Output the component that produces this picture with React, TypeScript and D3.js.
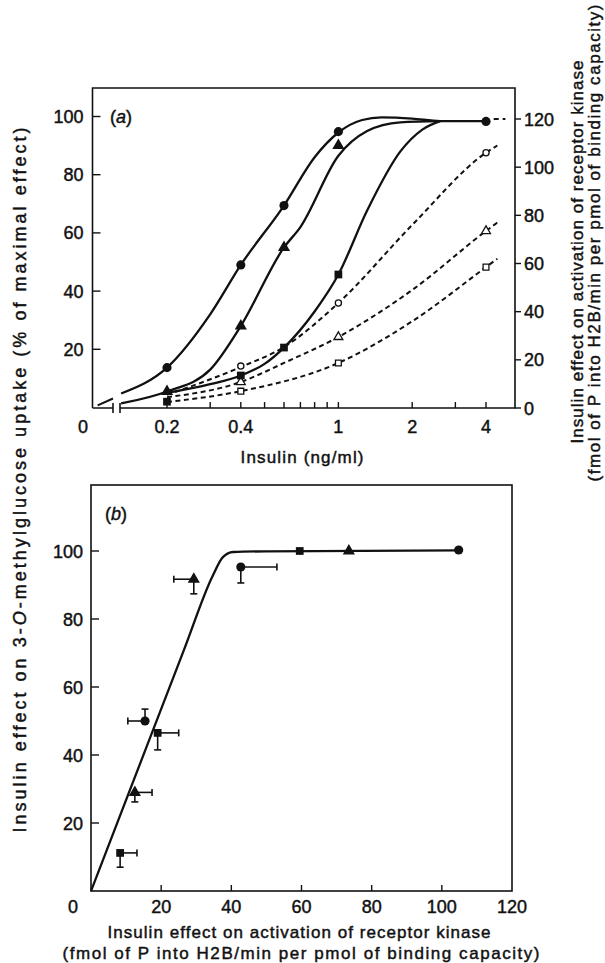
import * as d3 from "d3";
import { useEffect, useRef } from "react";

// ---- panel (a): insulin dose response ----
// filled markers = glucose uptake (left axis, % of max)
const doseA = [0.2, 0.4, 0.6, 1, 4];
const uptakeCircle = [13.7, 49, 69.4, 94.8, 98.3];
const doseTri = [0.2, 0.4, 0.6, 1];
const uptakeTri = [5.5, 28, 55, 90];
const doseSq = [0.2, 0.4, 0.6, 1];
const uptakeSq = [2, 11, 20.6, 45.7];

// fitted solid curves (left axis)
const fitCircle = [[0.13, 4.8], [0.2, 13.7], [0.3, 32], [0.4, 49], [0.6, 69.4], [0.8, 86], [1, 94.5], [1.25, 98.8], [1.5, 99.7], [2, 99.3], [2.6, 98.4], [4, 98.4]];
const fitTri = [[0.13, 1.4], [0.2, 5.5], [0.3, 13], [0.4, 28], [0.6, 55], [0.7, 62], [1, 86.5], [1.31, 95], [1.79, 98], [2.6, 98.4]];
const fitSq = [[0.2, 5], [0.3, 8], [0.4, 11], [0.5, 15], [0.6, 20.6], [0.8, 33], [1, 45.7], [1.31, 67.7], [1.79, 88], [2.2, 95.5], [2.6, 98.4]];
const zeroSeg = [[0.25, 0.7], [1, 3.1]]; // piece left of axis break

// open markers = receptor kinase (right axis)
const doseOpen = [0.4, 1, 4];
const kinaseCircle = [17.4, 43.6, 106];
const kinaseTri = [10.8, 29.5, 73.5];
const kinaseSq = [7, 18.7, 58.5];

// dashed curves (right axis)
const dashCircle = [[0.2, 5.5], [0.4, 17], [0.6, 25.3], [1, 43.6], [2, 76], [4, 106], [4.45, 109]];
const dashTri = [[0.2, 4.5], [0.4, 10.8], [0.6, 18.7], [1, 29.5], [2, 49], [4, 73.5], [4.45, 77]];
const dashSq = [[0.2, 2.5], [0.4, 7], [1, 18.7], [2, 36], [4, 58.5], [4.45, 62]];
const dashTop = [[4.3, 120], [4.8, 120]];

const xTicksA = [0.2, 0.3, 0.4, 0.5, 0.6, 0.7, 0.8, 0.9, 1, 2, 3, 4];
const xLabelsA = [0.2, 0.4, 1, 2, 4];
const yTicksA = [20, 40, 60, 80, 100];
const yTicksR = [0, 20, 40, 60, 80, 100, 120];

// ---- panel (b): uptake vs kinase activation ----
const kinB = [8.3, 12.5, 15.4, 19, 29.3, 42.7, 59.5, 73.5, 104.8];
const uptB = [11.2, 29, 50, 46.5, 91.7, 95.3, 100, 100, 100.3];
const shapeB = ["square", "triangle", "circle", "square", "triangle", "circle", "square", "triangle", "circle"];
const kinErrEnd = [13.1, 17.4, 10.5, 25, 23.6, 53, null, null, null];
const uptErrEnd = [7, 26.2, 53.5, 41.5, 87.4, 90.6, null, null, null];
const fitB = [[0, 0], [13, 34.8], [26.5, 70.9], [34.6, 92.5], [37.6, 98.2], [40.5, 99.7], [50, 99.9], [104.8, 100.2]];

const xTicksB = [20, 40, 60, 80, 100];
const xLabelsB = [20, 40, 60, 80, 100, 120];
const yTicksB = [20, 40, 60, 80, 100];

const W = 605;
const H = 963;
const FONT = "'Liberation Sans', Arial, Helvetica, sans-serif";
const INK = "#111";

export default function App() {
  const ref = useRef<SVGSVGElement>(null);

  useEffect(() => {
    const svg = d3.select(ref.current);
    svg.selectAll("*").remove();

    const symbolType: any = { circle: d3.symbolCircle, triangle: d3.symbolTriangle, square: d3.symbolSquare };
    const filledSize: any = { circle: 66, triangle: 64, square: 60 };
    const openSize: any = { circle: 30, triangle: 34, square: 34 };

    // text helper: slightly heavy ink like the printed figure
    const txt = (g: any, tx: number, ty: number, size: number, anchor: string) =>
      g.append("text").attr("x", tx).attr("y", ty).attr("text-anchor", anchor)
        .attr("font-family", FONT).attr("font-size", size).attr("fill", INK)
        .attr("stroke", INK).attr("stroke-width", 0.45);

    // ================= panel a =================
    const ax = { l: 92.5, r: 515, t: 88, b: 408 };
    const x = d3.scaleLog().domain([0.2, 4]).range([167, 486]);
    const xZero = d3.scaleLinear().domain([0, 1]).range([ax.l, 113]);
    const yL = d3.scaleLinear().domain([0, 100]).range([407.5, 116.5]);
    const yR = d3.scaleLinear().domain([0, 120]).range([408, 119]);

    const ga = svg.append("g");

    // frame with axis break
    ga.append("path")
      .attr("d", `M${ax.l},${ax.b} V${ax.t} H${ax.r} V${ax.b} H120 M113,${ax.b} H${ax.l}`)
      .attr("fill", "none").attr("stroke", INK).attr("stroke-width", 1.6);
    [113, 120].forEach(bx => {
      ga.append("line").attr("x1", bx).attr("x2", bx).attr("y1", ax.b - 5).attr("y2", ax.b + 5)
        .attr("stroke", INK).attr("stroke-width", 1.6);
    });

    // x ticks (inside)
    xTicksA.forEach(t => {
      ga.append("line").attr("x1", x(t)).attr("x2", x(t)).attr("y1", ax.b).attr("y2", ax.b - 6)
        .attr("stroke", INK).attr("stroke-width", 1.4);
    });
    xLabelsA.forEach(t => txt(ga, x(t), 433, 18, "middle").text(String(t)));
    txt(ga, 83, 433, 18, "middle").text("0");

    yTicksA.forEach(t => {
      ga.append("line").attr("x1", ax.l).attr("x2", ax.l + 8).attr("y1", yL(t)).attr("y2", yL(t))
        .attr("stroke", INK).attr("stroke-width", 1.4);
      txt(ga, ax.l - 9, yL(t) + 6.5, 18, "end").text(String(t));
    });
    yTicksR.forEach(t => {
      ga.append("line").attr("x1", ax.r).attr("x2", ax.r + 6).attr("y1", yR(t)).attr("y2", yR(t))
        .attr("stroke", INK).attr("stroke-width", 1.4);
      txt(ga, ax.r + 9, yR(t) + 6.5, 18, "start").text(String(t));
    });

    txt(ga, 110, 123, 18, "start").html("(<tspan font-style='italic'>a</tspan>)");

    const lineL = d3.line<any>().x(d => x(d[0])).y(d => yL(d[1])).curve(d3.curveMonotoneX);
    const lineR = d3.line<any>().x(d => x(d[0])).y(d => yR(d[1])).curve(d3.curveMonotoneX);

    [fitCircle, fitTri, fitSq].forEach(f => {
      ga.append("path").attr("d", lineL(f)).attr("fill", "none")
        .attr("stroke", INK).attr("stroke-width", 2.3);
    });
    ga.append("path")
      .attr("d", d3.line<any>().x(d => xZero(d[0])).y(d => yL(d[1]))(zeroSeg))
      .attr("fill", "none").attr("stroke", INK).attr("stroke-width", 2);

    [dashCircle, dashTri, dashSq].forEach(f => {
      ga.append("path").attr("d", lineR(f)).attr("fill", "none")
        .attr("stroke", INK).attr("stroke-width", 2).attr("stroke-dasharray", "5,3.5");
    });
    ga.append("path").attr("d", lineR(dashTop)).attr("fill", "none")
      .attr("stroke", INK).attr("stroke-width", 2).attr("stroke-dasharray", "5,4");

    const filled = (g: any, shape: string, px: number, py: number) =>
      g.append("path").attr("d", d3.symbol().type(symbolType[shape]).size(filledSize[shape])())
        .attr("transform", `translate(${px},${py})`).attr("fill", INK);
    const open = (g: any, shape: string, px: number, py: number) =>
      g.append("path").attr("d", d3.symbol().type(symbolType[shape]).size(openSize[shape])())
        .attr("transform", `translate(${px},${py})`).attr("fill", "#fff")
        .attr("stroke", INK).attr("stroke-width", 1.3);

    doseOpen.forEach((d, i) => {
      open(ga, "circle", x(d), yR(kinaseCircle[i]));
      open(ga, "triangle", x(d), yR(kinaseTri[i]));
      open(ga, "square", x(d), yR(kinaseSq[i]));
    });
    doseA.forEach((d, i) => filled(ga, "circle", x(d), yL(uptakeCircle[i])));
    doseTri.forEach((d, i) => filled(ga, "triangle", x(d), yL(uptakeTri[i])));
    doseSq.forEach((d, i) => filled(ga, "square", x(d), yL(uptakeSq[i])));

    txt(ga, 302, 463, 17, "middle").attr("textLength", 123).attr("lengthAdjust", "spacing")
      .text("Insulin (ng/ml)");

    // right axis title (two rotated lines)
    txt(ga, 0, 0, 17, "middle").attr("transform", "translate(583,252) rotate(-90)")
      .attr("textLength", 383).attr("lengthAdjust", "spacing")
      .text("Insulin effect on activation of receptor kinase");
    txt(ga, 0, 0, 17, "middle").attr("transform", "translate(600,243) rotate(-90)")
      .attr("textLength", 477).attr("lengthAdjust", "spacing")
      .text("(fmol of P into H2B/min per pmol of binding capacity)");

    // ================= panel b =================
    const bx = { l: 91, r: 512, t: 485, b: 891 };
    const xb = d3.scaleLinear().domain([0, 120]).range([bx.l, bx.r]);
    const yb = d3.scaleLinear().domain([0, 100]).range([bx.b, 551]);
    const gb = svg.append("g");

    gb.append("rect").attr("x", bx.l).attr("y", bx.t).attr("width", bx.r - bx.l).attr("height", bx.b - bx.t)
      .attr("fill", "none").attr("stroke", INK).attr("stroke-width", 1.6);

    xTicksB.forEach(t => {
      gb.append("line").attr("x1", xb(t)).attr("x2", xb(t)).attr("y1", bx.b).attr("y2", bx.b - 6)
        .attr("stroke", INK).attr("stroke-width", 1.4);
    });
    xLabelsB.forEach(t => txt(gb, xb(t), 913, 18, "middle").text(String(t)));
    txt(gb, 73, 913, 18, "middle").text("0");
    yTicksB.forEach(t => {
      gb.append("line").attr("x1", bx.l).attr("x2", bx.l + 8).attr("y1", yb(t)).attr("y2", yb(t))
        .attr("stroke", INK).attr("stroke-width", 1.4);
      txt(gb, bx.l - 8, yb(t) + 6.5, 18, "end").text(String(t));
    });

    txt(gb, 105, 520, 18, "start").html("(<tspan font-style='italic'>b</tspan>)");

    gb.append("path")
      .attr("d", d3.line<any>().x(d => xb(d[0])).y(d => yb(d[1])).curve(d3.curveMonotoneX)(fitB))
      .attr("fill", "none").attr("stroke", INK).attr("stroke-width", 2.3);

    kinB.forEach((k, i) => {
      const px = xb(k), py = yb(uptB[i]);
      if (kinErrEnd[i] != null) {
        const ex = xb(kinErrEnd[i] as number);
        gb.append("line").attr("x1", px).attr("x2", ex).attr("y1", py).attr("y2", py)
          .attr("stroke", INK).attr("stroke-width", 1.6);
        gb.append("line").attr("x1", ex).attr("x2", ex).attr("y1", py - 3.5).attr("y2", py + 3.5)
          .attr("stroke", INK).attr("stroke-width", 1.6);
      }
      if (uptErrEnd[i] != null) {
        const ey = yb(uptErrEnd[i] as number);
        gb.append("line").attr("x1", px).attr("x2", px).attr("y1", py).attr("y2", ey)
          .attr("stroke", INK).attr("stroke-width", 1.6);
        gb.append("line").attr("x1", px - 3.5).attr("x2", px + 3.5).attr("y1", ey).attr("y2", ey)
          .attr("stroke", INK).attr("stroke-width", 1.6);
      }
      filled(gb, shapeB[i], px, py);
    });

    txt(gb, 299, 938, 17, "middle").attr("textLength", 383).attr("lengthAdjust", "spacing")
      .text("Insulin effect on activation of receptor kinase");
    txt(gb, 301, 959, 17, "middle").attr("textLength", 477).attr("lengthAdjust", "spacing")
      .text("(fmol of P into H2B/min per pmol of binding capacity)");

    // shared left axis title
    txt(svg, 0, 0, 18, "middle").attr("transform", "translate(26,480) rotate(-90)")
      .attr("textLength", 705).attr("lengthAdjust", "spacing")
      .html("Insulin effect on 3-<tspan font-style='italic'>O</tspan>-methylglucose uptake (% of maximal effect)");
  }, []);

  return (
    <svg ref={ref} width={W} height={H}
      style={{ position: "absolute", left: 0, top: 0, background: "#fff" }} />
  );
}
